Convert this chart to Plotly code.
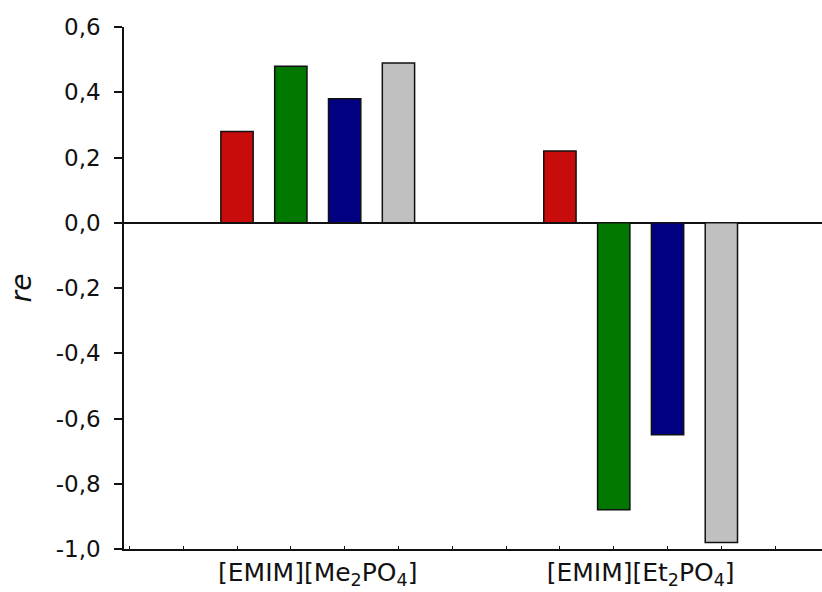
import plotly.graph_objects as go

# ---- data ----
categories = ["[EMIM][Me<sub>2</sub>PO<sub>4</sub>]", "[EMIM][Et<sub>2</sub>PO<sub>4</sub>]"]
group_centers = [3.5, 9.5]
series_offsets = [-1.5, -0.5, 0.5, 1.5]
series_colors = ["#c80c0c", "#007800", "#000080", "#c0c0c0"]
series_values = [
    [0.28, 0.22],    # red
    [0.48, -0.88],   # green
    [0.38, -0.65],   # blue
    [0.49, -0.98],   # gray
]
y_tickvals = [0.6, 0.4, 0.2, 0.0, -0.2, -0.4, -0.6, -0.8, -1.0]
y_ticktext = ["0,6", "0,4", "0,2", "0,0", "-0,2", "-0,4", "-0,6", "-0,8", "-1,0"]
x_minor_ticks = list(range(0, 14))

FONT = "DejaVu Sans, sans-serif"

fig = go.Figure()
for vals, off, col in zip(series_values, series_offsets, series_colors):
    fig.add_trace(go.Bar(
        x=[c + off for c in group_centers],
        y=vals,
        width=0.6,
        marker=dict(color=col, line=dict(color="#111111", width=1.5)),
        showlegend=False,
        hoverinfo="skip",
    ))

fig.update_layout(
    width=822, height=592,
    margin=dict(l=124, r=0, t=27, b=43),
    plot_bgcolor="white", paper_bgcolor="white",
    barmode="overlay",
    font=dict(family=FONT, size=23, color="#111111"),
    showlegend=False,
)

fig.update_xaxes(
    automargin=False,
    range=[-0.1, 12.87],
    tickvals=group_centers,
    ticktext=categories,
    ticks="",
    showline=True, linecolor="#111111", linewidth=1.5,
    showgrid=False, zeroline=False,
    ticklabelstandoff=0,
    minor=dict(tickvals=x_minor_ticks, ticks="inside", ticklen=3, tickcolor="#111111", tickwidth=1, showgrid=False),
    tickfont=dict(size=25),
)

fig.update_yaxes(
    automargin=False,
    range=[-1.0, 0.6],
    tickvals=y_tickvals,
    ticktext=y_ticktext,
    ticks="outside", ticklen=8, tickcolor="#111111", tickwidth=1.5,
    showline=True, linecolor="#111111", linewidth=1.5,
    showgrid=False,
    zeroline=True, zerolinecolor="#111111", zerolinewidth=1.5,
    ticklabelstandoff=9,
    title=dict(text="<i>re</i>", standoff=16, font=dict(size=28)),
)

fig.write_html(
    "out.html",
    config={"displayModeBar": False},
    post_script="document.body.style.margin='0';document.body.style.overflow='hidden';",
)
